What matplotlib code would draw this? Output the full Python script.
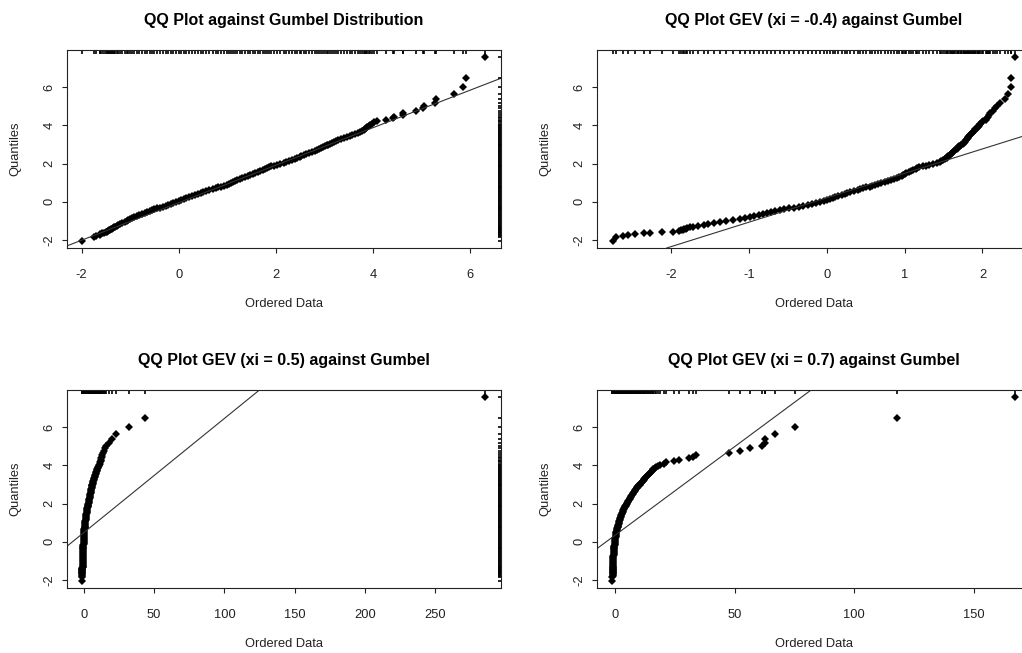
import matplotlib
matplotlib.use("Agg")
import matplotlib.pyplot as plt

plt.rcParams["font.family"] = ["Liberation Sans", "DejaVu Sans"]
plt.rcParams["axes.unicode_minus"] = False

# Gumbel quantiles shared by the y axis of every panel:
# sparse lower tail, dense middle, sparse upper tail
Y_LOW = [-2.03, -1.87, -1.79, -1.73, -1.69, -1.65, -1.62, -1.59, -1.56, -1.53, -1.50, -1.47, -1.44, -1.41, -1.38, -1.34]
Y_MID = [-1.30, -1.25, -1.20, -1.15, -1.10, -1.05, -1.00, -0.95, -0.90, -0.85,
         -0.80, -0.75, -0.70, -0.65, -0.60, -0.55, -0.50, -0.45, -0.40, -0.35,
         -0.30, -0.25, -0.20, -0.15, -0.10, -0.05, 0.00, 0.05, 0.10, 0.15,
         0.20, 0.25, 0.30, 0.35, 0.40, 0.45, 0.50, 0.55, 0.60, 0.65,
         0.70, 0.75, 0.80, 0.85, 0.90, 0.95, 1.00, 1.05, 1.10, 1.15,
         1.20, 1.25, 1.30, 1.35, 1.40, 1.45, 1.50, 1.55, 1.60, 1.65,
         1.70, 1.75, 1.80, 1.85, 1.90, 1.95, 2.00, 2.05, 2.10, 2.15,
         2.20, 2.25, 2.30, 2.35, 2.40, 2.45, 2.50, 2.55, 2.60, 2.65,
         2.70, 2.75, 2.80, 2.85, 2.90, 2.95, 3.00, 3.05, 3.10, 3.15,
         3.20, 3.25, 3.30, 3.35, 3.40, 3.45, 3.50, 3.55, 3.60, 3.65,
         3.70, 3.75, 3.80, 3.85, 3.90]
Y_HIGH = [3.98, 4.04, 4.10, 4.16, 4.23, 4.30, 4.38, 4.46, 4.55, 4.65, 4.76, 4.89, 5.03, 5.20, 5.40, 5.65, 5.99, 6.50, 7.60]
Y_Q = Y_LOW + Y_MID + Y_HIGH

# ordered data, one list per panel (same ranks as Y_Q)
X_GUMBEL = [-1.99, -1.74, -1.70, -1.63, -1.61, -1.57, -1.53, -1.50, -1.48, -1.46, -1.44, -1.42, -1.40, -1.38, -1.36, -1.33,
            -1.31, -1.28, -1.24, -1.20, -1.16, -1.11, -1.07, -1.04, -1.00, -0.96,
            -0.91, -0.86, -0.81, -0.75, -0.70, -0.65, -0.60, -0.55, -0.50, -0.44,
            -0.38, -0.33, -0.27, -0.21, -0.16, -0.11, -0.06, 0.00, 0.05, 0.11,
            0.16, 0.22, 0.28, 0.34, 0.40, 0.45, 0.51, 0.57, 0.63, 0.70,
            0.76, 0.82, 0.88, 0.94, 0.99, 1.04, 1.08, 1.12, 1.17, 1.21,
            1.26, 1.31, 1.36, 1.42, 1.47, 1.53, 1.58, 1.63, 1.68, 1.73,
            1.77, 1.81, 1.86, 1.91, 1.97, 2.03, 2.09, 2.16, 2.22, 2.28,
            2.33, 2.39, 2.44, 2.49, 2.53, 2.58, 2.63, 2.69, 2.74, 2.80,
            2.85, 2.89, 2.93, 2.97, 3.01, 3.05, 3.08, 3.11, 3.15, 3.19,
            3.24, 3.29, 3.35, 3.41, 3.47, 3.53, 3.58, 3.64, 3.70, 3.74,
            3.78, 3.81, 3.84, 3.86, 3.88,
            3.92, 3.95, 3.99, 4.02, 4.08, 4.27, 4.41, 4.44, 4.62, 4.63, 4.89, 5.04, 5.06, 5.28, 5.31, 5.68, 5.85, 5.92, 6.32]

X_XI_M04 = [-2.75, -2.71, -2.62, -2.55, -2.46, -2.35, -2.27, -2.12, -1.97, -1.90, -1.87, -1.85, -1.83, -1.81, -1.79, -1.76,
            -1.72, -1.65, -1.58, -1.52, -1.45, -1.37, -1.29, -1.20, -1.12, -1.05,
            -0.99, -0.93, -0.87, -0.82, -0.77, -0.71, -0.66, -0.60, -0.55, -0.48,
            -0.42, -0.36, -0.30, -0.24, -0.19, -0.14, -0.09, -0.04, 0.00, 0.04,
            0.08, 0.11, 0.15, 0.19, 0.23, 0.26, 0.30, 0.35, 0.40, 0.43,
            0.47, 0.51, 0.55, 0.58, 0.62, 0.66, 0.70, 0.75, 0.79, 0.82,
            0.86, 0.90, 0.93, 0.96, 0.98, 1.00, 1.02, 1.05, 1.08, 1.11,
            1.14, 1.16, 1.19, 1.23, 1.27, 1.31, 1.36, 1.41, 1.45, 1.47,
            1.49, 1.52, 1.54, 1.55, 1.56, 1.58, 1.59, 1.61, 1.62, 1.64,
            1.65, 1.67, 1.68, 1.69, 1.70, 1.72, 1.73, 1.75, 1.76, 1.77,
            1.78, 1.79, 1.80, 1.81, 1.82, 1.83, 1.84, 1.85, 1.86, 1.88,
            1.89, 1.90, 1.91, 1.93, 1.94,
            1.95, 1.96, 1.97, 1.99, 2.01, 2.04, 2.06, 2.07, 2.08, 2.10, 2.13, 2.16, 2.19, 2.23, 2.29, 2.33, 2.36, 2.37, 2.42]

X_XI_05 = [-1.35, -1.29, -1.26, -1.24, -1.22, -1.20, -1.19, -1.17, -1.16, -1.15, -1.13, -1.12, -1.11, -1.09, -1.08, -1.06,
           -1.04, -1.01, -0.99, -0.96, -0.94, -0.91, -0.89, -0.86, -0.84, -0.81,
           -0.78, -0.75, -0.72, -0.69, -0.66, -0.63, -0.60, -0.56, -0.53, -0.49,
           -0.46, -0.42, -0.39, -0.35, -0.32, -0.28, -0.24, -0.20, -0.16, -0.12,
           -0.08, -0.04, 0.00, 0.04, 0.09, 0.14, 0.19, 0.24, 0.30, 0.36,
           0.42, 0.48, 0.55, 0.62, 0.70, 0.77, 0.85, 0.92, 1.00, 1.10,
           1.20, 1.30, 1.40, 1.50, 1.60, 1.72, 1.85, 1.97, 2.10, 2.22,
           2.35, 2.47, 2.60, 2.72, 2.85, 2.97, 3.10, 3.25, 3.40, 3.55,
           3.70, 3.85, 4.00, 4.15, 4.30, 4.45, 4.60, 4.72, 4.85, 4.98,
           5.10, 5.25, 5.40, 5.55, 5.70, 5.85, 6.00, 6.17, 6.35, 6.52,
           6.70, 6.90, 7.10, 7.30, 7.50, 7.75, 8.00, 8.25, 8.50, 8.75,
           9.00, 9.30, 9.60, 9.90, 10.20,
           10.6, 11.0, 11.3, 11.6, 11.8, 12.0, 12.2, 12.5, 13.0, 13.8, 14.3, 15.2, 16.0, 17.6, 19.9, 23.0, 31.8, 43.2, 285.8]

X_XI_07 = [-1.10, -1.04, -1.01, -0.99, -0.97, -0.96, -0.95, -0.94, -0.93, -0.92, -0.91, -0.90, -0.89, -0.88, -0.87, -0.86,
           -0.84, -0.82, -0.80, -0.79, -0.77, -0.75, -0.73, -0.71, -0.69, -0.67,
           -0.64, -0.62, -0.59, -0.56, -0.53, -0.50, -0.46, -0.43, -0.39, -0.35,
           -0.31, -0.27, -0.22, -0.17, -0.12, -0.07, -0.01, 0.04, 0.10, 0.16,
           0.22, 0.28, 0.35, 0.42, 0.49, 0.56, 0.64, 0.72, 0.81, 0.90,
           0.99, 1.08, 1.18, 1.28, 1.39, 1.50, 1.62, 1.74, 1.86, 1.99,
           2.12, 2.26, 2.40, 2.55, 2.70, 2.86, 3.02, 3.19, 3.36, 3.54,
           3.72, 3.91, 4.10, 4.30, 4.50, 4.71, 4.92, 5.16, 5.40, 5.65,
           5.90, 6.15, 6.40, 6.65, 6.90, 7.15, 7.40, 7.65, 7.90, 8.20,
           8.50, 8.80, 9.10, 9.40, 9.70, 10.00, 10.30, 10.60, 10.90, 11.25,
           11.60, 11.95, 12.30, 12.65, 13.00, 13.35, 13.70, 14.10, 14.50, 14.90,
           15.30, 15.70, 16.10, 16.55, 17.00,
           18.0, 19.0, 20.6, 21.5, 24.8, 26.9, 31.1, 32.5, 34.0, 47.8, 52.4, 56.5, 61.3, 62.7, 62.9, 66.9, 75.4, 117.9, 167.4]

TITLES = ["QQ Plot against Gumbel Distribution",
          "QQ Plot GEV (xi = -0.4) against Gumbel",
          "QQ Plot GEV (xi = 0.5) against Gumbel",
          "QQ Plot GEV (xi = 0.7) against Gumbel"]
SAMPLES = [X_GUMBEL, X_XI_M04, X_XI_05, X_XI_07]
LINE_INTERCEPT = [-0.05, 0.21, 0.49, 0.34]
LINE_SLOPE = [0.982, 1.28, 0.0597, 0.0928]
X_TICKS = [[-2, 0, 2, 4, 6], [-2, -1, 0, 1, 2], [0, 50, 100, 150, 200, 250], [0, 50, 100, 150]]
X_LIMS = [(-2.30, 6.64), (-2.95, 2.61), (-12.1, 297.0), (-7.5, 173.5)]
Y_LIM = (-2.42, 7.95)

W, H = 1022, 653
# axes boxes in pixels: left, top, width, height (right column runs past the edge)
BOXES = [(67, 50, 434, 198), (597, 50, 433, 198), (67, 390, 434, 198), (597, 390, 433, 198)]

fig = plt.figure(figsize=(W / 100, H / 100), dpi=100)

for i in range(4):
    l, t, w, h = BOXES[i]
    ax = fig.add_axes([l / W, (H - t - h) / H, w / W, h / H])
    xs = SAMPLES[i]
    ax.plot(xs, Y_Q, "D", color="black", ms=3.8, mew=0)
    ax.axline((0, LINE_INTERCEPT[i]), slope=LINE_SLOPE[i], color="#333333", lw=0.8)

    # rugs: data along the top, quantiles along the right
    ax.vlines(xs, 1 - 3.5 / h, 1, transform=ax.get_xaxis_transform(), colors="black", lw=1.2)
    ax.hlines(Y_Q, 1 - 3.5 / w, 1, transform=ax.get_yaxis_transform(), colors="black", lw=1.2)

    ax.set_xlim(*X_LIMS[i])
    ax.set_ylim(*Y_LIM)
    ax.set_xticks(X_TICKS[i])
    ax.set_yticks([-2, 0, 2, 4, 6])
    for s in ax.spines.values():
        s.set_linewidth(0.8)
        s.set_color("#222222")
    ax.tick_params(direction="out", length=3.6, width=0.8, labelsize=9.3, colors="#222222")
    ax.tick_params(axis="x", pad=11.5)
    ax.tick_params(axis="y", pad=4.5, labelrotation=90)
    for lab in ax.get_yticklabels():
        lab.set_verticalalignment("center")

    ax.set_title(TITLES[i], fontsize=11.5, fontweight="bold", pad=18)
    ax.set_xlabel("Ordered Data", fontsize=9.3, color="#222222")
    ax.set_ylabel("Quantiles", fontsize=9.3, color="#222222")
    ax.xaxis.set_label_coords(0.5, -56 / h)
    ax.xaxis.label.set_verticalalignment("center")
    ax.yaxis.set_label_coords(-52 / w, 0.5)
    ax.yaxis.label.set_verticalalignment("center")

fig.savefig("out.png", dpi=100)
